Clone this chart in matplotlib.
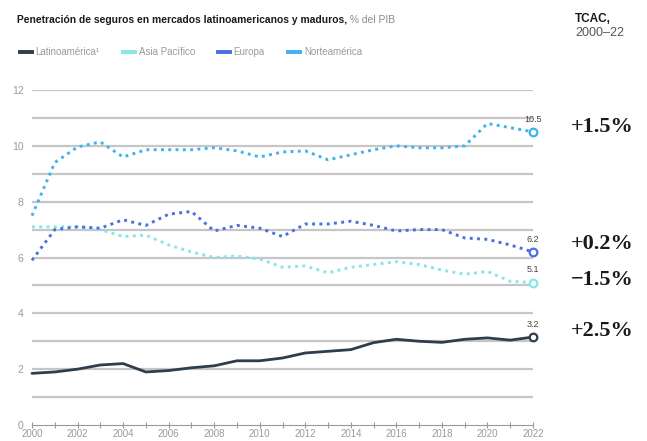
import matplotlib
matplotlib.use("Agg")
import matplotlib.pyplot as plt
from matplotlib.lines import Line2D

plt.rcParams['font.family'] = ['Liberation Sans', 'DejaVu Sans']

years = list(range(2000, 2023))
series_names = ["Latinoamérica¹", "Asia Pacífico", "Europa", "Norteamérica"]
latam = [1.85, 1.9, 2.0, 2.15, 2.2, 1.9, 1.95, 2.05, 2.12, 2.3, 2.3, 2.4, 2.58,
         2.64, 2.7, 2.95, 3.07, 3.0, 2.96, 3.07, 3.12, 3.04, 3.15]
asia = [7.1, 7.1, 7.1, 7.0, 6.75, 6.8, 6.45, 6.2, 6.0, 6.05, 5.95, 5.65, 5.7,
        5.45, 5.65, 5.75, 5.85, 5.75, 5.55, 5.4, 5.5, 5.15, 5.1]
europa = [5.9, 7.0, 7.1, 7.05, 7.35, 7.15, 7.55, 7.65, 6.95, 7.15, 7.05, 6.75, 7.2,
          7.2, 7.3, 7.15, 6.95, 7.0, 7.0, 6.7, 6.65, 6.45, 6.2]
norte = [7.5, 9.4, 9.96, 10.14, 9.6, 9.86, 9.86, 9.86, 9.93, 9.82, 9.6, 9.78, 9.82,
         9.5, 9.68, 9.86, 10.0, 9.93, 9.93, 10.0, 10.8, 10.65, 10.5]
end_labels = ["3.2", "5.1", "6.2", "10.5"]
cagr_labels = ["+2.5%", "−1.5%", "+0.2%", "+1.5%"]
y_ticks = [0, 2, 4, 6, 8, 10, 12]

colors = ["#2f3d4c", "#86e6ea", "#4a6fe3", "#3db3ef"]
styles = ["-", (0, (1, 1.5)), (0, (1, 1.5)), (0, (1, 1.5))]
cagr_offsets = [4.5, 2.0, 5.8, 3.6]  # points, vertical layout offsets

fig = plt.figure(figsize=(6.47, 4.41), dpi=100)
ax = fig.add_axes([32/647, 1-425/441, 501/647, 335/441])

ax.set_xlim(2000, 2022)
ax.set_ylim(0, 12)

# gridlines
ax.hlines(range(1, 13), 2000, 2022, color="#c6c6c6", lw=1.6, zorder=1)

data = [latam, asia, europa, norte]
for vals, c, ls, lab, cl, off in zip(data, colors, styles, end_labels, cagr_labels, cagr_offsets):
    ax.plot(years, vals, color=c, lw=2.0 if ls == "-" else 2.1, linestyle=ls,
            solid_capstyle="round", zorder=3, clip_on=False)
    ax.plot(years[-1], vals[-1], marker="o", ms=5.5, mfc="white", mec=c, mew=1.6,
            zorder=4, clip_on=False)
    ax.annotate(lab, (years[-1], vals[-1]), xytext=(0, 6), textcoords="offset points",
                ha="center", va="bottom", fontsize=6.5, color="#444444")
    ax.annotate(cl, (years[-1], vals[-1]), xytext=(27, off), textcoords="offset points",
                ha="left", va="center", fontsize=16, color="#1a1a1a", fontweight="bold",
                family=["Liberation Serif", "DejaVu Serif"], annotation_clip=False)

for s in ["top", "right", "left"]:
    ax.spines[s].set_visible(False)
ax.spines["bottom"].set_color("#999999")
ax.spines["bottom"].set_linewidth(0.8)

ax.set_yticks(y_ticks)
ax.set_yticklabels([str(v) for v in y_ticks])
ax.tick_params(axis="y", length=0, pad=6, labelsize=7.5, labelcolor="#9a9a9a")
ax.set_xticks(years)
ax.set_xticklabels([str(y) if y % 2 == 0 else "" for y in years])
ax.tick_params(axis="x", direction="inout", length=5, width=0.8, color="#999999",
               labelsize=7, labelcolor="#9a9a9a", pad=0.5)

# title
t = fig.text(17/647, 1-20/441, "Penetración de seguros en mercados latinoamericanos y maduros,",
             fontsize=7.6, fontweight="bold", color="#1a1a1a", va="center", ha="left")
fig.canvas.draw()
w = t.get_window_extent().width
t.set_fontsize(7.6 * 326 / w)
ax.annotate(" % del PIB", xy=(1, 0.5), xycoords=t, va="center", ha="left",
            fontsize=t.get_fontsize(), color="#8a8a8a")

fig.text(575/647, 1-19/441, "TCAC,", fontsize=8.5, fontweight="bold", color="#1a1a1a",
         va="center", ha="left")
fig.text(575/647, 1-33/441, "2000–22", fontsize=9, color="#555555", va="center", ha="left")

handles = [Line2D([0], [0], color=c, lw=2.8) for c in colors]
fig.legend(handles, series_names, loc="center left", bbox_to_anchor=(20/647, 1-52/441),
           ncol=4, frameon=False, fontsize=7, handlelength=1.2, handletextpad=0.4,
           columnspacing=2.4, borderpad=0, borderaxespad=0, labelcolor="#9a9a9a")

fig.savefig("out.png", dpi=100)
